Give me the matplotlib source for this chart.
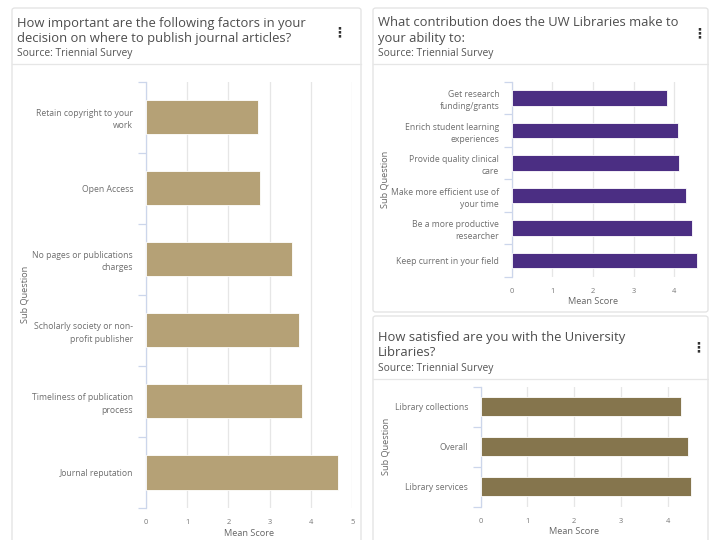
import matplotlib
matplotlib.use("Agg")
import matplotlib.pyplot as plt
from matplotlib.patches import FancyBboxPatch
from matplotlib.lines import Line2D
import numpy as np

# ---------------- data ----------------
pub_categories = ["Retain copyright to your\nwork", "Open Access",
                  "No pages or publications\ncharges",
                  "Scholarly society or non-\nprofit publisher",
                  "Timeliness of publication\nprocess", "Journal reputation"]
pub_scores = [2.71, 2.76, 3.53, 3.71, 3.79, 4.65]

contrib_categories = ["Get research\nfunding/grants", "Enrich student learning\nexperiences",
                      "Provide quality clinical\ncare", "Make more efficient use of\nyour time",
                      "Be a more productive\nresearcher", "Keep current in your field"]
contrib_scores = [3.81, 4.09, 4.12, 4.28, 4.44, 4.56]

sat_categories = ["Library collections", "Overall", "Library services"]
sat_scores = [4.29, 4.44, 4.50]

x_ticks = [0, 1, 2, 3, 4, 5]

titles = ["How important are the following factors in your\ndecision on where to publish journal articles?",
          "What contribution does the UW Libraries make to\nyour ability to:",
          "How satisfied are you with the University\nLibraries?"]
source_text = "Source: Triennial Survey"
x_label = "Mean Score"
y_label = "Sub Question"

# ---------------- styling ----------------
W, H = 709, 540
plt.rcParams['font.family'] = ['Open Sans', 'DejaVu Sans']
fig = plt.figure(figsize=(W / 100, H / 100), dpi=100)
fig.patch.set_facecolor("white")

def fx(x):
    return x / W

def fy(y):
    return 1 - y / H

def card(x0, y0, x1, y1, sep_y):
    p = FancyBboxPatch((fx(x0), fy(y1)), fx(x1) - fx(x0), fy(y0) - fy(y1),
                       boxstyle="round,pad=0,rounding_size=0.004",
                       transform=fig.transFigure, facecolor="white",
                       edgecolor="#e2e2e2", linewidth=0.9, zorder=0)
    fig.add_artist(p)
    fig.add_artist(Line2D([fx(x0), fx(x1)], [fy(sep_y), fy(sep_y)],
                          transform=fig.transFigure, color="#e6e6e6", lw=0.9))

def header(x, y1, y2, ysrc, title, dots_x, dots_y):
    lines = title.split("\n")
    fig.text(fx(x), fy(y1), lines[0], fontsize=9.4, color="#4d4d4d", va="center", ha="left")
    if len(lines) > 1:
        fig.text(fx(x), fy(y2), lines[1], fontsize=9.4, color="#4d4d4d", va="center", ha="left")
    fig.text(fx(x), fy(ysrc), source_text, fontsize=7.4, color="#555555",
             va="center", ha="left")
    fig.text(fx(dots_x), fy(dots_y), "\u22ee", fontsize=10, fontweight="bold",
             color="#333333", va="center", ha="center", family="DejaVu Sans")

def bar_panel(px0, px1, py0, py1, cats, vals, color, xmax, ticks, ylab_x):
    ax = fig.add_axes([fx(px0), fy(py1), fx(px1) - fx(px0), fy(py0) - fy(py1)])
    n = len(cats)
    pos = np.arange(n)
    ax.barh(pos, vals, height=0.48, color=color, edgecolor="white", linewidth=0.6, zorder=3)
    ax.set_ylim(n - 0.5, -0.5)
    ax.set_xlim(0, xmax)
    ax.set_xticks(ticks)
    ax.set_xticklabels([str(t) for t in ticks])
    ax.set_yticks(pos)
    ax.set_yticklabels(cats, fontsize=6.2, color="#6e6e6e", linespacing=1.45)
    ax.set_yticks(np.arange(n + 1) - 0.5, minor=True)
    ax.tick_params(axis="y", which="major", length=0, pad=9)
    ax.tick_params(axis="y", which="minor", length=6, color="#ccd6eb", width=0.9)
    ax.tick_params(axis="x", length=0, labelsize=5.4, labelcolor="#777777", pad=8)
    ax.grid(axis="x", color="#e6e6e6", lw=0.9, zorder=0)
    for s in ["top", "right", "bottom"]:
        ax.spines[s].set_visible(False)
    ax.spines["left"].set_color("#ccd6eb")
    ax.spines["left"].set_linewidth(0.9)
    ax.set_facecolor("none")
    # axis titles
    fig.text(fx((px0 + px0 + ticks[-1] * (px1 - px0) / xmax) / 2), fy(py1 + 25), x_label,
             fontsize=6.6, color="#666666", ha="center", va="center")
    fig.text(fx(ylab_x), fy((py0 + py1) / 2), y_label, fontsize=6.6, color="#666666",
             rotation=90, ha="center", va="center")
    return ax

# cards
card(12, 8, 361, 560, 64)
card(373, 8, 708, 312, 63.5)
card(373, 316, 708, 560, 379)

# headers
header(17, 23, 38.5, 53.5, titles[0], 339, 32)
header(378, 22.5, 38.5, 53.5, titles[1], 699, 33)
header(378, 337, 353, 368, titles[2], 698, 347)

# panels
bar_panel(145.7, 352.3, 81.7, 508, pub_categories, pub_scores, "#b5a176", 5, x_ticks, 25)
bar_panel(511.7, 705, 82, 276.7, contrib_categories, contrib_scores, "#4b2e83", 4.75, x_ticks[:5], 385)
bar_panel(480.7, 705, 386.7, 506.7, sat_categories, sat_scores, "#85754d", 4.8, x_ticks[:5], 386)

fig.savefig("out.png", dpi=100, facecolor="white")
